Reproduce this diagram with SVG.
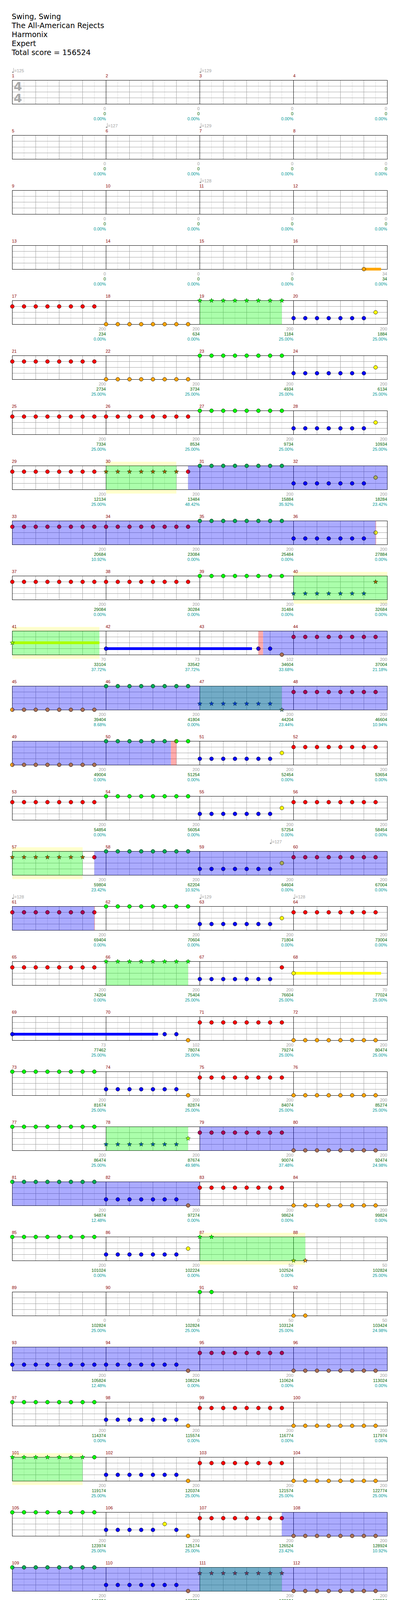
<svg xmlns="http://www.w3.org/2000/svg" xmlns:xlink="http://www.w3.org/1999/xlink" width="1024" height="4717" viewBox="0 0 1024 4717">
<style>
.t{font-family:"DejaVu Sans",sans-serif;font-size:19px;fill:#000}
.mn{font-family:"Liberation Sans",Arial,sans-serif;font-size:11px;fill:#8b0000}
.s1,.s2,.s3{font-family:"Liberation Sans",Arial,sans-serif;font-size:11px;text-anchor:end}
.s1{fill:#a0a0a0}.s2{fill:#006400}.s3{fill:#009999}
.tp{font-family:"Liberation Sans",Arial,sans-serif;font-size:11px;fill:#a0a0a0}
.ts{font-family:"DejaVu Sans",sans-serif;font-weight:bold;font-size:31px;fill:#aaa}
.yb{fill:#ffc}
.oG{fill:#0f0;fill-opacity:.33}.oB{fill:#00f;fill-opacity:.33}.oP{fill:#f00;fill-opacity:.33}
.R{fill:#f00;stroke:#000}.G{fill:#0f0;stroke:#000}.B{fill:#00f;stroke:#000}.Y{fill:#ff0;stroke:#000}.O{fill:#ffa500;stroke:#000}
.bR{fill:#ab0054;stroke:#000}.bG{fill:#00ab54;stroke:#000}.bO{fill:#ab6f54;stroke:#000}.bY{fill:#abab54;stroke:#000}
.gR{fill:#ab5400;stroke:#050}.gB{fill:#0054ab;stroke:#050}.gG{fill:#0f0;stroke:#050}.gY{fill:#abff00;stroke:#050}.gO{fill:#abc300;stroke:#050}
.tR{fill:#733854;stroke:#035}.tB{fill:#0038c7;stroke:#035}.tO{fill:#738354;stroke:#035}
.sY{fill:#ff0}.sO{fill:#ffa500}.sB{fill:#00f}
</style>
<defs>
<circle id="ci" r="4.9" stroke-width=".8"/>
<path id="st" stroke-width=".8" d="M0-6L1.47-2.02L5.71-1.85L2.38.77L3.53 4.85L0 2.5L-3.53 4.85L-2.38.77L-5.71-1.85L-1.47-2.02Z"/>
<path id="hr" d="M0-4.9A4.9 4.9 0 0 1 0 4.9Z"/>
<path id="hl" d="M0-4.9A4.9 4.9 0 0 0 0 4.9Z"/>
<g id="c5"><use href="#ci"/><use href="#ci" x="30"/><use href="#ci" x="60"/><use href="#ci" x="90"/><use href="#ci" x="120"/></g>
<g id="c6"><use href="#c5"/><use href="#ci" x="150"/></g>
<g id="c7"><use href="#c6"/><use href="#ci" x="180"/></g>
<g id="c8"><use href="#c7"/><use href="#ci" x="210"/></g>
<g id="s7"><use href="#st"/><use href="#st" x="30"/><use href="#st" x="60"/><use href="#st" x="90"/><use href="#st" x="120"/><use href="#st" x="150"/><use href="#st" x="180"/></g>
<g id="s8"><use href="#s7"/><use href="#st" x="210"/></g>
<g id="tm"><ellipse cx="1.5" cy="-20.6" rx="2.3" ry="1.8" fill="#a0a0a0"/><path d="M3.3-31.5V-21" stroke="#a0a0a0"/></g>
<g id="st4">
<rect x="31.5" y="0" width="960" height="61" fill="#fff"/>
<path d="M61.5 0V61M121.5 0V61M181.5 0V61M241.5 0V61M301.5 0V61M361.5 0V61M421.5 0V61M481.5 0V61M541.5 0V61M601.5 0V61M661.5 0V61M721.5 0V61M781.5 0V61M841.5 0V61M901.5 0V61M961.5 0V61" stroke="#ddd"/>
<path d="M91.5 0V61M151.5 0V61M211.5 0V61M331.5 0V61M391.5 0V61M451.5 0V61M571.5 0V61M631.5 0V61M691.5 0V61M811.5 0V61M871.5 0V61M931.5 0V61M31.5 15H991.5M31.5 30H991.5M31.5 45H991.5" stroke="#a0a0a0"/>
<path d="M271.5 0V61M511.5 0V61M751.5 0V61" stroke="#000"/>
<rect x="31.5" y="0" width="960" height="61" fill="none" stroke="#000"/>
</g>
<g id="st2">
<rect x="31.5" y="0" width="480" height="61" fill="#fff"/>
<path d="M61.5 0V61M121.5 0V61M181.5 0V61M241.5 0V61M301.5 0V61M361.5 0V61M421.5 0V61M481.5 0V61" stroke="#ddd"/>
<path d="M91.5 0V61M151.5 0V61M211.5 0V61M331.5 0V61M391.5 0V61M451.5 0V61M31.5 15H511.5M31.5 30H511.5M31.5 45H511.5" stroke="#a0a0a0"/>
<path d="M271.5 0V61" stroke="#000"/>
<rect x="31.5" y="0" width="480" height="61" fill="none" stroke="#000"/>
</g>
</defs>
<rect width="1024" height="4717" fill="#fff"/>
<g id="header">
<text class="t" x="30" y="49">Swing, Swing</text>
<text class="t" x="30" y="72">The All-American Rejects</text>
<text class="t" x="30" y="95">Harmonix</text>
<text class="t" x="30" y="118">Expert</text>
<text class="t" x="30" y="141">Total score = 156524</text>
</g>

<g id="row-1" transform="translate(0,205.5)">
<use href="#st4"/>
<text class="ts" x="35" y="26.5">4</text><text class="ts" x="35" y="56.5">4</text>
<use href="#tm" x="31.5"/><text class="tp" x="36.5" y="-20.5">=125</text>
<use href="#tm" x="511.5"/><text class="tp" x="516.5" y="-20.5">=129</text>
<text class="mn" x="30.5" y="-8">1</text><text class="mn" x="270.5" y="-8">2</text><text class="mn" x="510.5" y="-8">3</text><text class="mn" x="750.5" y="-8">4</text>
<text class="s1" x="271" y="76.5">0</text><text class="s2" x="271" y="89.5">0</text><text class="s3" x="271" y="102.5">0.00%</text>
<text class="s1" x="511" y="76.5">0</text><text class="s2" x="511" y="89.5">0</text><text class="s3" x="511" y="102.5">0.00%</text>
<text class="s1" x="751" y="76.5">0</text><text class="s2" x="751" y="89.5">0</text><text class="s3" x="751" y="102.5">0.00%</text>
<text class="s1" x="991" y="76.5">0</text><text class="s2" x="991" y="89.5">0</text><text class="s3" x="991" y="102.5">0.00%</text>
</g>

<g id="row-2" transform="translate(0,346.5)">
<use href="#st4"/>
<use href="#tm" x="271.5"/><text class="tp" x="276.5" y="-20.5">=127</text>
<use href="#tm" x="511.5"/><text class="tp" x="516.5" y="-20.5">=129</text>
<text class="mn" x="30.5" y="-8">5</text><text class="mn" x="270.5" y="-8">6</text><text class="mn" x="510.5" y="-8">7</text><text class="mn" x="750.5" y="-8">8</text>
<text class="s1" x="271" y="76.5">0</text><text class="s2" x="271" y="89.5">0</text><text class="s3" x="271" y="102.5">0.00%</text>
<text class="s1" x="511" y="76.5">0</text><text class="s2" x="511" y="89.5">0</text><text class="s3" x="511" y="102.5">0.00%</text>
<text class="s1" x="751" y="76.5">0</text><text class="s2" x="751" y="89.5">0</text><text class="s3" x="751" y="102.5">0.00%</text>
<text class="s1" x="991" y="76.5">0</text><text class="s2" x="991" y="89.5">0</text><text class="s3" x="991" y="102.5">0.00%</text>
</g>

<g id="row-3" transform="translate(0,487.5)">
<use href="#st4"/>
<use href="#tm" x="511.5"/><text class="tp" x="516.5" y="-20.5">=128</text>
<text class="mn" x="30.5" y="-8">9</text><text class="mn" x="270.5" y="-8">10</text><text class="mn" x="510.5" y="-8">11</text><text class="mn" x="750.5" y="-8">12</text>
<text class="s1" x="271" y="76.5">0</text><text class="s2" x="271" y="89.5">0</text><text class="s3" x="271" y="102.5">0.00%</text>
<text class="s1" x="511" y="76.5">0</text><text class="s2" x="511" y="89.5">0</text><text class="s3" x="511" y="102.5">0.00%</text>
<text class="s1" x="751" y="76.5">0</text><text class="s2" x="751" y="89.5">0</text><text class="s3" x="751" y="102.5">0.00%</text>
<text class="s1" x="991" y="76.5">0</text><text class="s2" x="991" y="89.5">0</text><text class="s3" x="991" y="102.5">0.00%</text>
</g>

<g id="row-4" transform="translate(0,628.5)">
<use href="#st4"/>
<rect class="sO" x="931.5" y="57" width="44" height="7"/>
<use href="#ci" class="O" x="931.5" y="60.5"/>
<text class="mn" x="30.5" y="-8">13</text><text class="mn" x="270.5" y="-8">14</text><text class="mn" x="510.5" y="-8">15</text><text class="mn" x="750.5" y="-8">16</text>
<text class="s1" x="271" y="76.5">0</text><text class="s2" x="271" y="89.5">0</text><text class="s3" x="271" y="102.5">0.00%</text>
<text class="s1" x="511" y="76.5">0</text><text class="s2" x="511" y="89.5">0</text><text class="s3" x="511" y="102.5">0.00%</text>
<text class="s1" x="751" y="76.5">0</text><text class="s2" x="751" y="89.5">0</text><text class="s3" x="751" y="102.5">0.00%</text>
<text class="s1" x="991" y="76.5">34</text><text class="s2" x="991" y="89.5">34</text><text class="s3" x="991" y="102.5">0.00%</text>
</g>

<g id="row-5" transform="translate(0,769.5)">
<use href="#st4"/>
<rect class="oG" x="511.5" y="0" width="210" height="61"/>
<use href="#c8" class="R" x="31.5" y="15"/>
<use href="#c8" class="O" x="271.5" y="60.5"/>
<use href="#s8" class="gG" x="511.5" y="0"/>
<use href="#c7" class="B" x="751.5" y="45"/><use href="#ci" class="Y" x="961.5" y="30"/>
<text class="mn" x="30.5" y="-8">17</text><text class="mn" x="270.5" y="-8">18</text><text class="mn" x="510.5" y="-8">19</text><text class="mn" x="750.5" y="-8">20</text>
<text class="s1" x="271" y="76.5">200</text><text class="s2" x="271" y="89.5">234</text><text class="s3" x="271" y="102.5">0.00%</text>
<text class="s1" x="511" y="76.5">200</text><text class="s2" x="511" y="89.5">634</text><text class="s3" x="511" y="102.5">0.00%</text>
<text class="s1" x="751" y="76.5">200</text><text class="s2" x="751" y="89.5">1184</text><text class="s3" x="751" y="102.5">25.00%</text>
<text class="s1" x="991" y="76.5">200</text><text class="s2" x="991" y="89.5">1884</text><text class="s3" x="991" y="102.5">25.00%</text>
</g>

<g id="row-6" transform="translate(0,910.5)">
<use href="#st4"/>
<use href="#c8" class="R" x="31.5" y="15"/>
<use href="#c8" class="O" x="271.5" y="60.5"/>
<use href="#c8" class="G" x="511.5" y="0"/>
<use href="#c7" class="B" x="751.5" y="45"/><use href="#ci" class="Y" x="961.5" y="30"/>
<text class="mn" x="30.5" y="-8">21</text><text class="mn" x="270.5" y="-8">22</text><text class="mn" x="510.5" y="-8">23</text><text class="mn" x="750.5" y="-8">24</text>
<text class="s1" x="271" y="76.5">200</text><text class="s2" x="271" y="89.5">2734</text><text class="s3" x="271" y="102.5">25.00%</text>
<text class="s1" x="511" y="76.5">200</text><text class="s2" x="511" y="89.5">3734</text><text class="s3" x="511" y="102.5">25.00%</text>
<text class="s1" x="751" y="76.5">200</text><text class="s2" x="751" y="89.5">4934</text><text class="s3" x="751" y="102.5">25.00%</text>
<text class="s1" x="991" y="76.5">200</text><text class="s2" x="991" y="89.5">6134</text><text class="s3" x="991" y="102.5">25.00%</text>
</g>

<g id="row-7" transform="translate(0,1051.5)">
<use href="#st4"/>
<use href="#c8" class="R" x="31.5" y="15"/>
<use href="#c8" class="R" x="271.5" y="15"/>
<use href="#c8" class="G" x="511.5" y="0"/>
<use href="#c7" class="B" x="751.5" y="45"/><use href="#ci" class="Y" x="961.5" y="30"/>
<text class="mn" x="30.5" y="-8">25</text><text class="mn" x="270.5" y="-8">26</text><text class="mn" x="510.5" y="-8">27</text><text class="mn" x="750.5" y="-8">28</text>
<text class="s1" x="271" y="76.5">200</text><text class="s2" x="271" y="89.5">7334</text><text class="s3" x="271" y="102.5">25.00%</text>
<text class="s1" x="511" y="76.5">200</text><text class="s2" x="511" y="89.5">8534</text><text class="s3" x="511" y="102.5">25.00%</text>
<text class="s1" x="751" y="76.5">200</text><text class="s2" x="751" y="89.5">9734</text><text class="s3" x="751" y="102.5">25.00%</text>
<text class="s1" x="991" y="76.5">200</text><text class="s2" x="991" y="89.5">10934</text><text class="s3" x="991" y="102.5">25.00%</text>
</g>

<g id="row-8" transform="translate(0,1192.5)">
<rect class="yb" x="271.5" y="-10.5" width="180" height="81.5"/>
<use href="#st4"/>
<rect class="oG" x="271.5" y="0" width="180" height="61"/>
<rect class="oB" x="481.5" y="0" width="510" height="61"/>
<use href="#c8" class="R" x="31.5" y="15"/>
<use href="#s7" class="gR" x="271.5" y="15"/>
<use href="#ci" class="R" x="481.5" y="15"/><use href="#hr" class="oB" x="481.5" y="15"/>
<use href="#c8" class="bG" x="511.5" y="0"/>
<use href="#c7" class="B" x="751.5" y="45"/><use href="#ci" class="bY" x="961.5" y="30"/>
<text class="mn" x="30.5" y="-8">29</text><text class="mn" x="270.5" y="-8">30</text><text class="mn" x="510.5" y="-8">31</text><text class="mn" x="750.5" y="-8">32</text>
<text class="s1" x="271" y="76.5">200</text><text class="s2" x="271" y="89.5">12134</text><text class="s3" x="271" y="102.5">25.00%</text>
<text class="s1" x="511" y="76.5">200</text><text class="s2" x="511" y="89.5">13484</text><text class="s3" x="511" y="102.5">48.42%</text>
<text class="s1" x="751" y="76.5">200</text><text class="s2" x="751" y="89.5">15884</text><text class="s3" x="751" y="102.5">35.92%</text>
<text class="s1" x="991" y="76.5">200</text><text class="s2" x="991" y="89.5">18284</text><text class="s3" x="991" y="102.5">23.42%</text>
</g>

<g id="row-9" transform="translate(0,1333.5)">
<use href="#st4"/>
<rect class="oB" x="31.5" y="0" width="930" height="61"/>
<rect class="oP" x="961.5" y="0" width="1.5" height="61"/>
<use href="#ci" class="R" x="31.5" y="15"/><use href="#hr" class="oB" x="31.5" y="15"/>
<use href="#c7" class="bR" x="61.5" y="15"/>
<use href="#c8" class="bR" x="271.5" y="15"/>
<use href="#c8" class="bG" x="511.5" y="0"/>
<use href="#c7" class="B" x="751.5" y="45"/><use href="#ci" class="Y" x="961.5" y="30"/><use href="#hl" class="oB" x="961.5" y="30"/>
<text class="mn" x="30.5" y="-8">33</text><text class="mn" x="270.5" y="-8">34</text><text class="mn" x="510.5" y="-8">35</text><text class="mn" x="750.5" y="-8">36</text>
<text class="s1" x="271" y="76.5">200</text><text class="s2" x="271" y="89.5">20684</text><text class="s3" x="271" y="102.5">10.92%</text>
<text class="s1" x="511" y="76.5">200</text><text class="s2" x="511" y="89.5">23084</text><text class="s3" x="511" y="102.5">0.00%</text>
<text class="s1" x="751" y="76.5">200</text><text class="s2" x="751" y="89.5">25484</text><text class="s3" x="751" y="102.5">0.00%</text>
<text class="s1" x="991" y="76.5">200</text><text class="s2" x="991" y="89.5">27884</text><text class="s3" x="991" y="102.5">0.00%</text>
</g>

<g id="row-10" transform="translate(0,1474.5)">
<rect class="yb" x="751.5" y="-10.5" width="240" height="81.5"/>
<use href="#st4"/>
<rect class="oG" x="751.5" y="0" width="240" height="61"/>
<use href="#c8" class="R" x="31.5" y="15"/>
<use href="#c8" class="R" x="271.5" y="15"/>
<use href="#c8" class="G" x="511.5" y="0"/>
<use href="#s7" class="gB" x="751.5" y="45"/><use href="#st" class="gR" x="961.5" y="15"/>
<text class="mn" x="30.5" y="-8">37</text><text class="mn" x="270.5" y="-8">38</text><text class="mn" x="510.5" y="-8">39</text><text class="mn" x="750.5" y="-8">40</text>
<text class="s1" x="271" y="76.5">200</text><text class="s2" x="271" y="89.5">29084</text><text class="s3" x="271" y="102.5">0.00%</text>
<text class="s1" x="511" y="76.5">200</text><text class="s2" x="511" y="89.5">30284</text><text class="s3" x="511" y="102.5">0.00%</text>
<text class="s1" x="751" y="76.5">200</text><text class="s2" x="751" y="89.5">31484</text><text class="s3" x="751" y="102.5">0.00%</text>
<text class="s1" x="991" y="76.5">200</text><text class="s2" x="991" y="89.5">32684</text><text class="s3" x="991" y="102.5">0.00%</text>
</g>

<g id="row-11" transform="translate(0,1615.5)">
<rect class="yb" x="31.5" y="-10.5" width="223" height="81.5"/>
<use href="#st4"/>
<rect class="sY" x="31.5" y="26.5" width="223" height="7"/>
<rect class="sB" x="271.5" y="41.5" width="373.5" height="7"/>
<rect class="oG" x="31.5" y="0" width="223" height="61"/>
<rect class="oP" x="661.5" y="0" width="12" height="61"/>
<rect class="oB" x="673.5" y="0" width="318" height="61"/>
<use href="#st" class="gY" x="31.5" y="30"/>
<use href="#ci" class="B" x="271.5" y="45"/>
<use href="#ci" class="B" x="661.5" y="45"/><use href="#hr" class="oP" x="661.5" y="45"/>
<use href="#ci" class="B" x="691.5" y="45"/>
<use href="#ci" class="bO" x="721.5" y="60.5"/>
<use href="#c8" class="bR" x="751.5" y="15"/>
<text class="mn" x="30.5" y="-8">41</text><text class="mn" x="270.5" y="-8">42</text><text class="mn" x="510.5" y="-8">43</text><text class="mn" x="750.5" y="-8">44</text>
<text class="s1" x="271" y="76.5">70</text><text class="s2" x="271" y="89.5">33104</text><text class="s3" x="271" y="102.5">37.72%</text>
<text class="s1" x="511" y="76.5">73</text><text class="s2" x="511" y="89.5">33542</text><text class="s3" x="511" y="102.5">37.72%</text>
<text class="s1" x="751" y="76.5">102</text><text class="s2" x="751" y="89.5">34604</text><text class="s3" x="751" y="102.5">33.68%</text>
<text class="s1" x="991" y="76.5">200</text><text class="s2" x="991" y="89.5">37004</text><text class="s3" x="991" y="102.5">21.18%</text>
</g>

<g id="row-12" transform="translate(0,1756.5)">
<use href="#st4"/>
<rect class="oG" x="511.5" y="0" width="210" height="61"/>
<rect class="oB" x="31.5" y="0" width="960" height="61"/>
<use href="#ci" class="O" x="31.5" y="60.5"/><use href="#hr" class="oB" x="31.5" y="60.5"/>
<use href="#c7" class="bO" x="61.5" y="60.5"/>
<use href="#c8" class="bG" x="271.5" y="0"/>
<use href="#s7" class="tB" x="511.5" y="45"/><use href="#st" class="tO" x="721.5" y="60.5"/>
<use href="#c8" class="bR" x="751.5" y="15"/>
<text class="mn" x="30.5" y="-8">45</text><text class="mn" x="270.5" y="-8">46</text><text class="mn" x="510.5" y="-8">47</text><text class="mn" x="750.5" y="-8">48</text>
<text class="s1" x="271" y="76.5">200</text><text class="s2" x="271" y="89.5">39404</text><text class="s3" x="271" y="102.5">8.68%</text>
<text class="s1" x="511" y="76.5">200</text><text class="s2" x="511" y="89.5">41804</text><text class="s3" x="511" y="102.5">0.00%</text>
<text class="s1" x="751" y="76.5">200</text><text class="s2" x="751" y="89.5">44204</text><text class="s3" x="751" y="102.5">23.44%</text>
<text class="s1" x="991" y="76.5">200</text><text class="s2" x="991" y="89.5">46604</text><text class="s3" x="991" y="102.5">10.94%</text>
</g>

<g id="row-13" transform="translate(0,1897.5)">
<use href="#st4"/>
<rect class="oB" x="31.5" y="0" width="406" height="61"/>
<rect class="oP" x="437.5" y="0" width="14" height="61"/>
<use href="#ci" class="O" x="31.5" y="60.5"/><use href="#hr" class="oB" x="31.5" y="60.5"/>
<use href="#c7" class="bO" x="61.5" y="60.5"/>
<use href="#c6" class="bG" x="271.5" y="0"/>
<use href="#ci" class="G" x="451.5" y="0"/><use href="#hl" class="oP" x="451.5" y="0"/>
<use href="#ci" class="G" x="481.5" y="0"/>
<use href="#c7" class="B" x="511.5" y="45"/><use href="#ci" class="Y" x="721.5" y="30"/>
<use href="#c8" class="R" x="751.5" y="15"/>
<text class="mn" x="30.5" y="-8">49</text><text class="mn" x="270.5" y="-8">50</text><text class="mn" x="510.5" y="-8">51</text><text class="mn" x="750.5" y="-8">52</text>
<text class="s1" x="271" y="76.5">200</text><text class="s2" x="271" y="89.5">49004</text><text class="s3" x="271" y="102.5">0.00%</text>
<text class="s1" x="511" y="76.5">200</text><text class="s2" x="511" y="89.5">51254</text><text class="s3" x="511" y="102.5">0.00%</text>
<text class="s1" x="751" y="76.5">200</text><text class="s2" x="751" y="89.5">52454</text><text class="s3" x="751" y="102.5">0.00%</text>
<text class="s1" x="991" y="76.5">200</text><text class="s2" x="991" y="89.5">53654</text><text class="s3" x="991" y="102.5">0.00%</text>
</g>

<g id="row-14" transform="translate(0,2038.5)">
<use href="#st4"/>
<use href="#c8" class="R" x="31.5" y="15"/>
<use href="#c8" class="G" x="271.5" y="0"/>
<use href="#c7" class="B" x="511.5" y="45"/><use href="#ci" class="Y" x="721.5" y="30"/>
<use href="#c8" class="R" x="751.5" y="15"/>
<text class="mn" x="30.5" y="-8">53</text><text class="mn" x="270.5" y="-8">54</text><text class="mn" x="510.5" y="-8">55</text><text class="mn" x="750.5" y="-8">56</text>
<text class="s1" x="271" y="76.5">200</text><text class="s2" x="271" y="89.5">54854</text><text class="s3" x="271" y="102.5">0.00%</text>
<text class="s1" x="511" y="76.5">200</text><text class="s2" x="511" y="89.5">56054</text><text class="s3" x="511" y="102.5">0.00%</text>
<text class="s1" x="751" y="76.5">200</text><text class="s2" x="751" y="89.5">57254</text><text class="s3" x="751" y="102.5">0.00%</text>
<text class="s1" x="991" y="76.5">200</text><text class="s2" x="991" y="89.5">58454</text><text class="s3" x="991" y="102.5">0.00%</text>
</g>

<g id="row-15" transform="translate(0,2179.5)">
<rect class="yb" x="31.5" y="-10.5" width="180" height="81.5"/>
<use href="#st4"/>
<rect class="oG" x="31.5" y="0" width="180" height="61"/>
<rect class="oB" x="241.5" y="0" width="750" height="61"/>
<use href="#s7" class="gR" x="31.5" y="15"/>
<use href="#ci" class="R" x="241.5" y="15"/><use href="#hr" class="oB" x="241.5" y="15"/>
<use href="#c8" class="bG" x="271.5" y="0"/>
<use href="#c7" class="B" x="511.5" y="45"/><use href="#ci" class="bY" x="721.5" y="30"/>
<use href="#c8" class="bR" x="751.5" y="15"/>
<use href="#tm" x="691.5"/><text class="tp" x="696.5" y="-20.5">=127</text>
<text class="mn" x="30.5" y="-8">57</text><text class="mn" x="270.5" y="-8">58</text><text class="mn" x="510.5" y="-8">59</text><text class="mn" x="750.5" y="-8">60</text>
<text class="s1" x="271" y="76.5">200</text><text class="s2" x="271" y="89.5">59804</text><text class="s3" x="271" y="102.5">23.42%</text>
<text class="s1" x="511" y="76.5">200</text><text class="s2" x="511" y="89.5">62204</text><text class="s3" x="511" y="102.5">10.92%</text>
<text class="s1" x="751" y="76.5">200</text><text class="s2" x="751" y="89.5">64604</text><text class="s3" x="751" y="102.5">0.00%</text>
<text class="s1" x="991" y="76.5">200</text><text class="s2" x="991" y="89.5">67004</text><text class="s3" x="991" y="102.5">0.00%</text>
</g>

<g id="row-16" transform="translate(0,2320.5)">
<use href="#st4"/>
<rect class="oB" x="31.5" y="0" width="210" height="61"/>
<rect class="oP" x="241.5" y="0" width="1.5" height="61"/>
<use href="#ci" class="R" x="31.5" y="15"/><use href="#hr" class="oB" x="31.5" y="15"/>
<use href="#c6" class="bR" x="61.5" y="15"/>
<use href="#ci" class="R" x="241.5" y="15"/><use href="#hl" class="oB" x="241.5" y="15"/>
<use href="#c8" class="G" x="271.5" y="0"/>
<use href="#c7" class="B" x="511.5" y="45"/><use href="#ci" class="Y" x="721.5" y="30"/>
<use href="#c8" class="R" x="751.5" y="15"/>
<use href="#tm" x="31.5"/><text class="tp" x="36.5" y="-20.5">=128</text>
<use href="#tm" x="511.5"/><text class="tp" x="516.5" y="-20.5">=129</text>
<use href="#tm" x="751.5"/><text class="tp" x="756.5" y="-20.5">=128</text>
<text class="mn" x="30.5" y="-8">61</text><text class="mn" x="270.5" y="-8">62</text><text class="mn" x="510.5" y="-8">63</text><text class="mn" x="750.5" y="-8">64</text>
<text class="s1" x="271" y="76.5">200</text><text class="s2" x="271" y="89.5">69404</text><text class="s3" x="271" y="102.5">0.00%</text>
<text class="s1" x="511" y="76.5">200</text><text class="s2" x="511" y="89.5">70604</text><text class="s3" x="511" y="102.5">0.00%</text>
<text class="s1" x="751" y="76.5">200</text><text class="s2" x="751" y="89.5">71804</text><text class="s3" x="751" y="102.5">0.00%</text>
<text class="s1" x="991" y="76.5">200</text><text class="s2" x="991" y="89.5">73004</text><text class="s3" x="991" y="102.5">0.00%</text>
</g>

<g id="row-17" transform="translate(0,2461.5)">
<use href="#st4"/>
<rect class="sY" x="751.5" y="26.5" width="224" height="7"/>
<rect class="oG" x="271.5" y="0" width="210" height="61"/>
<use href="#c8" class="R" x="31.5" y="15"/>
<use href="#s8" class="gG" x="271.5" y="0"/>
<use href="#c7" class="B" x="511.5" y="45"/><use href="#ci" class="R" x="721.5" y="15"/>
<use href="#ci" class="Y" x="751.5" y="30"/>
<text class="mn" x="30.5" y="-8">65</text><text class="mn" x="270.5" y="-8">66</text><text class="mn" x="510.5" y="-8">67</text><text class="mn" x="750.5" y="-8">68</text>
<text class="s1" x="271" y="76.5">200</text><text class="s2" x="271" y="89.5">74204</text><text class="s3" x="271" y="102.5">0.00%</text>
<text class="s1" x="511" y="76.5">200</text><text class="s2" x="511" y="89.5">75404</text><text class="s3" x="511" y="102.5">25.00%</text>
<text class="s1" x="751" y="76.5">200</text><text class="s2" x="751" y="89.5">76604</text><text class="s3" x="751" y="102.5">25.00%</text>
<text class="s1" x="991" y="76.5">70</text><text class="s2" x="991" y="89.5">77024</text><text class="s3" x="991" y="102.5">25.00%</text>
</g>

<g id="row-18" transform="translate(0,2602.5)">
<use href="#st4"/>
<rect class="sB" x="31.5" y="41.5" width="373" height="7"/>
<use href="#ci" class="B" x="31.5" y="45"/>
<use href="#ci" class="B" x="421.5" y="45"/><use href="#ci" class="B" x="451.5" y="45"/><use href="#ci" class="O" x="481.5" y="60.5"/>
<use href="#c8" class="R" x="511.5" y="15"/>
<use href="#c8" class="O" x="751.5" y="60.5"/>
<text class="mn" x="30.5" y="-8">69</text><text class="mn" x="270.5" y="-8">70</text><text class="mn" x="510.5" y="-8">71</text><text class="mn" x="750.5" y="-8">72</text>
<text class="s1" x="271" y="76.5">73</text><text class="s2" x="271" y="89.5">77462</text><text class="s3" x="271" y="102.5">25.00%</text>
<text class="s1" x="511" y="76.5">102</text><text class="s2" x="511" y="89.5">78074</text><text class="s3" x="511" y="102.5">25.00%</text>
<text class="s1" x="751" y="76.5">200</text><text class="s2" x="751" y="89.5">79274</text><text class="s3" x="751" y="102.5">25.00%</text>
<text class="s1" x="991" y="76.5">200</text><text class="s2" x="991" y="89.5">80474</text><text class="s3" x="991" y="102.5">25.00%</text>
</g>

<g id="row-19" transform="translate(0,2743.5)">
<use href="#st4"/>
<use href="#c8" class="G" x="31.5" y="0"/>
<use href="#c7" class="B" x="271.5" y="45"/><use href="#ci" class="O" x="481.5" y="60.5"/>
<use href="#c8" class="R" x="511.5" y="15"/>
<use href="#c8" class="O" x="751.5" y="60.5"/>
<text class="mn" x="30.5" y="-8">73</text><text class="mn" x="270.5" y="-8">74</text><text class="mn" x="510.5" y="-8">75</text><text class="mn" x="750.5" y="-8">76</text>
<text class="s1" x="271" y="76.5">200</text><text class="s2" x="271" y="89.5">81674</text><text class="s3" x="271" y="102.5">25.00%</text>
<text class="s1" x="511" y="76.5">200</text><text class="s2" x="511" y="89.5">82874</text><text class="s3" x="511" y="102.5">25.00%</text>
<text class="s1" x="751" y="76.5">200</text><text class="s2" x="751" y="89.5">84074</text><text class="s3" x="751" y="102.5">25.00%</text>
<text class="s1" x="991" y="76.5">200</text><text class="s2" x="991" y="89.5">85274</text><text class="s3" x="991" y="102.5">25.00%</text>
</g>

<g id="row-20" transform="translate(0,2884.5)">
<use href="#st4"/>
<rect class="oG" x="271.5" y="0" width="210" height="61"/>
<rect class="oB" x="511.5" y="0" width="480" height="61"/>
<use href="#c8" class="G" x="31.5" y="0"/>
<use href="#s7" class="gB" x="271.5" y="45"/><use href="#st" class="gY" x="481.5" y="30"/>
<use href="#c8" class="bR" x="511.5" y="15"/>
<use href="#c8" class="bO" x="751.5" y="60.5"/>
<text class="mn" x="30.5" y="-8">77</text><text class="mn" x="270.5" y="-8">78</text><text class="mn" x="510.5" y="-8">79</text><text class="mn" x="750.5" y="-8">80</text>
<text class="s1" x="271" y="76.5">200</text><text class="s2" x="271" y="89.5">86474</text><text class="s3" x="271" y="102.5">25.00%</text>
<text class="s1" x="511" y="76.5">200</text><text class="s2" x="511" y="89.5">87674</text><text class="s3" x="511" y="102.5">49.98%</text>
<text class="s1" x="751" y="76.5">200</text><text class="s2" x="751" y="89.5">90074</text><text class="s3" x="751" y="102.5">37.48%</text>
<text class="s1" x="991" y="76.5">200</text><text class="s2" x="991" y="89.5">92474</text><text class="s3" x="991" y="102.5">24.98%</text>
</g>

<g id="row-21" transform="translate(0,3025.5)">
<use href="#st4"/>
<rect class="oB" x="31.5" y="0" width="480" height="61"/>
<use href="#ci" class="G" x="31.5" y="0"/><use href="#hr" class="oB" x="31.5" y="0"/>
<use href="#c7" class="bG" x="61.5" y="0"/>
<use href="#c7" class="B" x="271.5" y="45"/><use href="#ci" class="bO" x="481.5" y="60.5"/>
<use href="#c8" class="R" x="511.5" y="15"/>
<use href="#c8" class="O" x="751.5" y="60.5"/>
<text class="mn" x="30.5" y="-8">81</text><text class="mn" x="270.5" y="-8">82</text><text class="mn" x="510.5" y="-8">83</text><text class="mn" x="750.5" y="-8">84</text>
<text class="s1" x="271" y="76.5">200</text><text class="s2" x="271" y="89.5">94874</text><text class="s3" x="271" y="102.5">12.48%</text>
<text class="s1" x="511" y="76.5">200</text><text class="s2" x="511" y="89.5">97274</text><text class="s3" x="511" y="102.5">0.00%</text>
<text class="s1" x="751" y="76.5">200</text><text class="s2" x="751" y="89.5">98624</text><text class="s3" x="751" y="102.5">0.00%</text>
<text class="s1" x="991" y="76.5">200</text><text class="s2" x="991" y="89.5">99824</text><text class="s3" x="991" y="102.5">0.00%</text>
</g>

<g id="row-22" transform="translate(0,3166.5)">
<rect class="yb" x="511.5" y="-10.5" width="270" height="81.5"/>
<use href="#st4"/>
<rect class="oG" x="511.5" y="0" width="270" height="61"/>
<use href="#c8" class="G" x="31.5" y="0"/>
<use href="#c7" class="B" x="271.5" y="45"/><use href="#ci" class="Y" x="481.5" y="30"/>
<use href="#st" class="gG" x="511.5" y="0"/><use href="#st" class="gG" x="541.5" y="0"/>
<use href="#st" class="gO" x="751.5" y="60.5"/><use href="#st" class="O" x="781.5" y="60.5"/>
<text class="mn" x="30.5" y="-8">85</text><text class="mn" x="270.5" y="-8">86</text><text class="mn" x="510.5" y="-8">87</text><text class="mn" x="750.5" y="-8">88</text>
<text class="s1" x="271" y="76.5">200</text><text class="s2" x="271" y="89.5">101024</text><text class="s3" x="271" y="102.5">0.00%</text>
<text class="s1" x="511" y="76.5">200</text><text class="s2" x="511" y="89.5">102224</text><text class="s3" x="511" y="102.5">0.00%</text>
<text class="s1" x="751" y="76.5">50</text><text class="s2" x="751" y="89.5">102524</text><text class="s3" x="751" y="102.5">0.00%</text>
<text class="s1" x="991" y="76.5">50</text><text class="s2" x="991" y="89.5">102824</text><text class="s3" x="991" y="102.5">25.00%</text>
</g>

<g id="row-23" transform="translate(0,3307.5)">
<use href="#st4"/>
<use href="#ci" class="G" x="511.5" y="0"/><use href="#ci" class="G" x="541.5" y="0"/>
<use href="#ci" class="O" x="751.5" y="60.5"/><use href="#ci" class="O" x="781.5" y="60.5"/>
<text class="mn" x="30.5" y="-8">89</text><text class="mn" x="270.5" y="-8">90</text><text class="mn" x="510.5" y="-8">91</text><text class="mn" x="750.5" y="-8">92</text>
<text class="s1" x="271" y="76.5">0</text><text class="s2" x="271" y="89.5">102824</text><text class="s3" x="271" y="102.5">25.00%</text>
<text class="s1" x="511" y="76.5">0</text><text class="s2" x="511" y="89.5">102824</text><text class="s3" x="511" y="102.5">25.00%</text>
<text class="s1" x="751" y="76.5">50</text><text class="s2" x="751" y="89.5">103124</text><text class="s3" x="751" y="102.5">25.00%</text>
<text class="s1" x="991" y="76.5">50</text><text class="s2" x="991" y="89.5">103424</text><text class="s3" x="991" y="102.5">24.98%</text>
</g>

<g id="row-24" transform="translate(0,3448.5)">
<use href="#st4"/>
<rect class="oB" x="31.5" y="0" width="960" height="61"/>
<use href="#c8" class="B" x="31.5" y="45"/>
<use href="#c7" class="B" x="271.5" y="45"/><use href="#ci" class="bO" x="481.5" y="60.5"/>
<use href="#c8" class="bR" x="511.5" y="15"/>
<use href="#c8" class="bO" x="751.5" y="60.5"/>
<text class="mn" x="30.5" y="-8">93</text><text class="mn" x="270.5" y="-8">94</text><text class="mn" x="510.5" y="-8">95</text><text class="mn" x="750.5" y="-8">96</text>
<text class="s1" x="271" y="76.5">200</text><text class="s2" x="271" y="89.5">105824</text><text class="s3" x="271" y="102.5">12.48%</text>
<text class="s1" x="511" y="76.5">200</text><text class="s2" x="511" y="89.5">108224</text><text class="s3" x="511" y="102.5">0.00%</text>
<text class="s1" x="751" y="76.5">200</text><text class="s2" x="751" y="89.5">110624</text><text class="s3" x="751" y="102.5">0.00%</text>
<text class="s1" x="991" y="76.5">200</text><text class="s2" x="991" y="89.5">113024</text><text class="s3" x="991" y="102.5">0.00%</text>
</g>

<g id="row-25" transform="translate(0,3589.5)">
<use href="#st4"/>
<use href="#c8" class="G" x="31.5" y="0"/>
<use href="#c7" class="B" x="271.5" y="45"/><use href="#ci" class="O" x="481.5" y="60.5"/>
<use href="#c8" class="R" x="511.5" y="15"/>
<use href="#c8" class="O" x="751.5" y="60.5"/>
<text class="mn" x="30.5" y="-8">97</text><text class="mn" x="270.5" y="-8">98</text><text class="mn" x="510.5" y="-8">99</text><text class="mn" x="750.5" y="-8">100</text>
<text class="s1" x="271" y="76.5">200</text><text class="s2" x="271" y="89.5">114374</text><text class="s3" x="271" y="102.5">0.00%</text>
<text class="s1" x="511" y="76.5">200</text><text class="s2" x="511" y="89.5">115574</text><text class="s3" x="511" y="102.5">0.00%</text>
<text class="s1" x="751" y="76.5">200</text><text class="s2" x="751" y="89.5">116774</text><text class="s3" x="751" y="102.5">0.00%</text>
<text class="s1" x="991" y="76.5">200</text><text class="s2" x="991" y="89.5">117974</text><text class="s3" x="991" y="102.5">0.00%</text>
</g>

<g id="row-26" transform="translate(0,3730.5)">
<rect class="yb" x="31.5" y="-10.5" width="180" height="81.5"/>
<use href="#st4"/>
<rect class="oG" x="31.5" y="0" width="180" height="61"/>
<use href="#s7" class="gG" x="31.5" y="0"/><use href="#ci" class="G" x="241.5" y="0"/>
<use href="#c7" class="B" x="271.5" y="45"/><use href="#ci" class="O" x="481.5" y="60.5"/>
<use href="#c8" class="R" x="511.5" y="15"/>
<use href="#c8" class="O" x="751.5" y="60.5"/>
<text class="mn" x="30.5" y="-8">101</text><text class="mn" x="270.5" y="-8">102</text><text class="mn" x="510.5" y="-8">103</text><text class="mn" x="750.5" y="-8">104</text>
<text class="s1" x="271" y="76.5">200</text><text class="s2" x="271" y="89.5">119174</text><text class="s3" x="271" y="102.5">25.00%</text>
<text class="s1" x="511" y="76.5">200</text><text class="s2" x="511" y="89.5">120374</text><text class="s3" x="511" y="102.5">25.00%</text>
<text class="s1" x="751" y="76.5">200</text><text class="s2" x="751" y="89.5">121574</text><text class="s3" x="751" y="102.5">25.00%</text>
<text class="s1" x="991" y="76.5">200</text><text class="s2" x="991" y="89.5">122774</text><text class="s3" x="991" y="102.5">25.00%</text>
</g>

<g id="row-27" transform="translate(0,3871.5)">
<use href="#st4"/>
<rect class="oB" x="721.5" y="0" width="270" height="61"/>
<use href="#c8" class="G" x="31.5" y="0"/>
<use href="#c5" class="B" x="271.5" y="45"/><use href="#ci" class="Y" x="421.5" y="30"/><use href="#ci" class="B" x="451.5" y="45"/><use href="#ci" class="O" x="481.5" y="60.5"/>
<use href="#c7" class="R" x="511.5" y="15"/><use href="#ci" class="R" x="721.5" y="15"/><use href="#hr" class="oB" x="721.5" y="15"/>
<use href="#c8" class="bO" x="751.5" y="60.5"/>
<text class="mn" x="30.5" y="-8">105</text><text class="mn" x="270.5" y="-8">106</text><text class="mn" x="510.5" y="-8">107</text><text class="mn" x="750.5" y="-8">108</text>
<text class="s1" x="271" y="76.5">200</text><text class="s2" x="271" y="89.5">123974</text><text class="s3" x="271" y="102.5">25.00%</text>
<text class="s1" x="511" y="76.5">200</text><text class="s2" x="511" y="89.5">125174</text><text class="s3" x="511" y="102.5">25.00%</text>
<text class="s1" x="751" y="76.5">200</text><text class="s2" x="751" y="89.5">126524</text><text class="s3" x="751" y="102.5">23.42%</text>
<text class="s1" x="991" y="76.5">200</text><text class="s2" x="991" y="89.5">128924</text><text class="s3" x="991" y="102.5">10.92%</text>
</g>

<g id="row-28" transform="translate(0,4012.5)">
<use href="#st4"/>
<rect class="oG" x="511.5" y="0" width="210" height="61"/>
<rect class="oB" x="31.5" y="0" width="960" height="61"/>
<use href="#ci" class="G" x="31.5" y="0"/><use href="#hr" class="oB" x="31.5" y="0"/>
<use href="#c7" class="bG" x="61.5" y="0"/>
<use href="#c7" class="B" x="271.5" y="45"/><use href="#ci" class="bO" x="481.5" y="60.5"/>
<use href="#s8" class="tR" x="511.5" y="15"/>
<use href="#c8" class="bO" x="751.5" y="60.5"/>
<text class="mn" x="30.5" y="-8">109</text><text class="mn" x="270.5" y="-8">110</text><text class="mn" x="510.5" y="-8">111</text><text class="mn" x="750.5" y="-8">112</text>
<text class="s1" x="271" y="76.5">200</text><text class="s2" x="271" y="89.5">131324</text><text class="s3" x="271" y="102.5">0.00%</text>
<text class="s1" x="511" y="76.5">200</text><text class="s2" x="511" y="89.5">133724</text><text class="s3" x="511" y="102.5">0.00%</text>
<text class="s1" x="751" y="76.5">200</text><text class="s2" x="751" y="89.5">136124</text><text class="s3" x="751" y="102.5">23.44%</text>
<text class="s1" x="991" y="76.5">200</text><text class="s2" x="991" y="89.5">138524</text><text class="s3" x="991" y="102.5">10.94%</text>
</g>

<g id="row-29" transform="translate(0,4153.5)">
<use href="#st4"/>
<rect class="oB" x="31.5" y="0" width="210" height="61"/>
<rect class="oP" x="241.5" y="0" width="1.5" height="61"/>
<use href="#ci" class="G" x="31.5" y="0"/><use href="#hr" class="oB" x="31.5" y="0"/>
<use href="#c6" class="bG" x="61.5" y="0"/>
<use href="#ci" class="G" x="241.5" y="0"/><use href="#hl" class="oB" x="241.5" y="0"/>
<use href="#c5" class="B" x="271.5" y="45"/><use href="#ci" class="Y" x="421.5" y="30"/><use href="#ci" class="B" x="451.5" y="45"/><use href="#ci" class="O" x="481.5" y="60.5"/>
<use href="#c8" class="R" x="511.5" y="15"/>
<use href="#c8" class="O" x="751.5" y="60.5"/>
<text class="mn" x="30.5" y="-8">113</text><text class="mn" x="270.5" y="-8">114</text><text class="mn" x="510.5" y="-8">115</text><text class="mn" x="750.5" y="-8">116</text>
<text class="s1" x="271" y="76.5">200</text><text class="s2" x="271" y="89.5">140924</text><text class="s3" x="271" y="102.5">0.00%</text>
<text class="s1" x="511" y="76.5">200</text><text class="s2" x="511" y="89.5">142124</text><text class="s3" x="511" y="102.5">0.00%</text>
<text class="s1" x="751" y="76.5">200</text><text class="s2" x="751" y="89.5">143324</text><text class="s3" x="751" y="102.5">0.00%</text>
<text class="s1" x="991" y="76.5">200</text><text class="s2" x="991" y="89.5">144524</text><text class="s3" x="991" y="102.5">0.00%</text>
</g>

<g id="row-30" transform="translate(0,4294.5)">
<use href="#st4"/>
<use href="#c8" class="G" x="31.5" y="0"/>
<use href="#c7" class="B" x="271.5" y="45"/><use href="#ci" class="O" x="481.5" y="60.5"/>
<use href="#c8" class="R" x="511.5" y="15"/>
<use href="#c8" class="O" x="751.5" y="60.5"/>
<text class="mn" x="30.5" y="-8">117</text><text class="mn" x="270.5" y="-8">118</text><text class="mn" x="510.5" y="-8">119</text><text class="mn" x="750.5" y="-8">120</text>
<text class="s1" x="271" y="76.5">200</text><text class="s2" x="271" y="89.5">145724</text><text class="s3" x="271" y="102.5">0.00%</text>
<text class="s1" x="511" y="76.5">200</text><text class="s2" x="511" y="89.5">146924</text><text class="s3" x="511" y="102.5">0.00%</text>
<text class="s1" x="751" y="76.5">200</text><text class="s2" x="751" y="89.5">148124</text><text class="s3" x="751" y="102.5">0.00%</text>
<text class="s1" x="991" y="76.5">200</text><text class="s2" x="991" y="89.5">149324</text><text class="s3" x="991" y="102.5">0.00%</text>
</g>

<g id="row-31" transform="translate(0,4435.5)">
<use href="#st4"/>
<use href="#c8" class="G" x="31.5" y="0"/>
<use href="#c5" class="B" x="271.5" y="45"/><use href="#ci" class="Y" x="421.5" y="30"/><use href="#ci" class="B" x="451.5" y="45"/><use href="#ci" class="O" x="481.5" y="60.5"/>
<use href="#c8" class="R" x="511.5" y="15"/>
<use href="#c8" class="O" x="751.5" y="60.5"/>
<text class="mn" x="30.5" y="-8">121</text><text class="mn" x="270.5" y="-8">122</text><text class="mn" x="510.5" y="-8">123</text><text class="mn" x="750.5" y="-8">124</text>
<text class="s1" x="271" y="76.5">200</text><text class="s2" x="271" y="89.5">150524</text><text class="s3" x="271" y="102.5">0.00%</text>
<text class="s1" x="511" y="76.5">200</text><text class="s2" x="511" y="89.5">151724</text><text class="s3" x="511" y="102.5">0.00%</text>
<text class="s1" x="751" y="76.5">200</text><text class="s2" x="751" y="89.5">152924</text><text class="s3" x="751" y="102.5">0.00%</text>
<text class="s1" x="991" y="76.5">200</text><text class="s2" x="991" y="89.5">154124</text><text class="s3" x="991" y="102.5">0.00%</text>
</g>

<g id="row-32" transform="translate(0,4576.5)">
<use href="#st2"/>
<use href="#c8" class="G" x="31.5" y="0"/>
<use href="#c8" class="B" x="271.5" y="45"/>
<text class="mn" x="30.5" y="-8">125</text><text class="mn" x="270.5" y="-8">126</text>
<text class="s1" x="271" y="76.5">200</text><text class="s2" x="271" y="89.5">155324</text><text class="s3" x="271" y="102.5">0.00%</text>
<text class="s1" x="511" y="76.5">200</text><text class="s2" x="511" y="89.5">156524</text><text class="s3" x="511" y="102.5">0.00%</text>
</g>
</svg>
